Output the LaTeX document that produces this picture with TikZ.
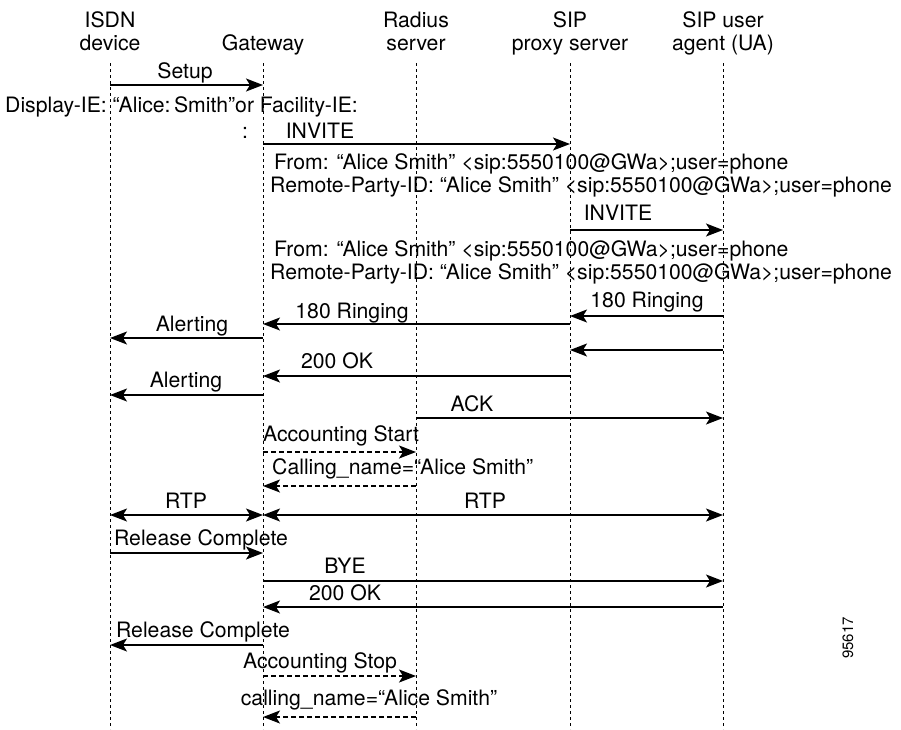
\documentclass[tikz,border=0pt]{standalone}
\usepackage{fontspec}
\setmainfont{TeX Gyre Heros}
\usetikzlibrary{arrows.meta}
\begin{document}
\begin{tikzpicture}[x=1pt,y=-1pt,
  lbl/.style={font=\fontsize{21.2}{24}\selectfont, inner sep=0pt, anchor=base},
  lblw/.style={lbl, anchor=base west},
  life/.style={line width=0.8pt, dash pattern=on 3pt off 3pt},
  msg/.style={line width=1.4pt, -{Stealth[length=17pt,width=13pt,inset=4pt]}},
  dmsg/.style={msg, dash pattern=on 5pt off 3pt},
  bmsg/.style={line width=1.4pt, {Stealth[length=17pt,width=13pt,inset=4pt]}-{Stealth[length=17pt,width=13pt,inset=4pt]}}]
\useasboundingbox (0,0) rectangle (901,729);
% lifeline anchors
\coordinate (I) at (110,63);
\coordinate (G) at (263,63);
\coordinate (R) at (416,63);
\coordinate (P) at (570,63);
\coordinate (U) at (723,63);
\foreach \c in {I,G,R,P,U} \draw[life] (\c) -- (\c |- 0,729);
% headers
\node[lbl] (h1a) at (110,27) {ISDN};
\node[lbl] (h1b) at (110,50) {device};
\node[lbl] (h2) at (263,50) {Gateway};
\node[lbl] (h3a) at (416,27) {Radius};
\node[lbl] (h3b) at (416,50) {server};
\node[lbl] (h4a) at (570,27) {SIP};
\node[lbl] (h4b) at (570,50) {proxy server};
\node[lbl] (h5a) at (723,27) {SIP user};
\node[lbl] (h5b) at (723,50) {agent (UA)};
% messages
\node[lbl] (t1) at (185,78) {Setup};
\draw[msg] (I |- 0,85) -- (G |- 0,85);
\node[lblw] (t2) at (5,112) {Display-IE: “Alice:\,Smith”or Facility-IE:};
\node[lbl] (t2b) at (245,138) {:};
\node[lbl] (t3) at (320,138) {INVITE};
\draw[msg] (G |- 0,144) -- (P |- 0,144);
\node[lblw] (t4) at (274,169) {From: “Alice Smith” <sip:5550100@GWa>;user=phone};
\node[lblw] (t5) at (270,192) {Remote-Party-ID: “Alice Smith” <sip:5550100@GWa>;user=phone};
\node[lbl] (t6) at (618,220) {INVITE};
\draw[msg] (P |- 0,230) -- (U |- 0,230);
\node[lblw] (t7) at (274,256) {From: “Alice Smith” <sip:5550100@GWa>;user=phone};
\node[lblw] (t8) at (270,279) {Remote-Party-ID: “Alice Smith” <sip:5550100@GWa>;user=phone};
\node[lbl] (t9) at (647,307) {180 Ringing};
\draw[msg] (U |- 0,316) -- (P |- 0,316);
\node[lbl] (t10) at (352,318) {180 Ringing};
\draw[msg] (P |- 0,324) -- (G |- 0,324);
\node[lbl] (t11) at (192,331) {Alerting};
\draw[msg] (G |- 0,338) -- (I |- 0,338);
\draw[msg] (U |- 0,350) -- (P |- 0,350);
\node[lbl] (t12) at (337,368) {200 OK};
\draw[msg] (P |- 0,376) -- (G |- 0,376);
\node[lbl] (t13) at (186,387) {Alerting};
\draw[msg] (G |- 0,395) -- (I |- 0,395);
\node[lbl] (t14) at (472,411) {ACK};
\draw[msg] (R |- 0,418) -- (U |- 0,418);
\node[lbl] (t15) at (341,441) {Accounting Start};
\draw[dmsg] (G |- 0,452) -- (R |- 0,452);
\node[lblw] (t16) at (272,474) {Calling\_name=“Alice Smith”};
\draw[dmsg] (R |- 0,486) -- (G |- 0,486);
\node[lbl] (t17) at (186,508) {RTP};
\node[lbl] (t18) at (485,508) {RTP};
\draw[bmsg] (I |- 0,515) -- (G |- 0,515);
\draw[bmsg] (G |- 0,515) -- (U |- 0,515);
\node[lbl] (t19) at (201,545) {Release Complete};
\draw[msg] (I |- 0,553) -- (G |- 0,553);
\node[lbl] (t20) at (345,573) {BYE};
\draw[msg] (G |- 0,581) -- (U |- 0,581);
\node[lbl] (t21) at (345,600) {200 OK};
\draw[msg] (U |- 0,607) -- (G |- 0,607);
\node[lbl] (t22) at (203,637) {Release Complete};
\draw[msg] (G |- 0,645) -- (I |- 0,645);
\node[lbl] (t23) at (320,668) {Accounting Stop};
\draw[dmsg] (G |- 0,676) -- (R |- 0,676);
\node[lbl] (t24) at (369,705) {calling\_name=“Alice Smith”};
\draw[dmsg] (R |- 0,717) -- (G |- 0,717);
\node[font=\fontsize{15}{17}\selectfont, inner sep=0pt, rotate=90] (id) at (848,638) {95617};
\end{tikzpicture}
\end{document}
